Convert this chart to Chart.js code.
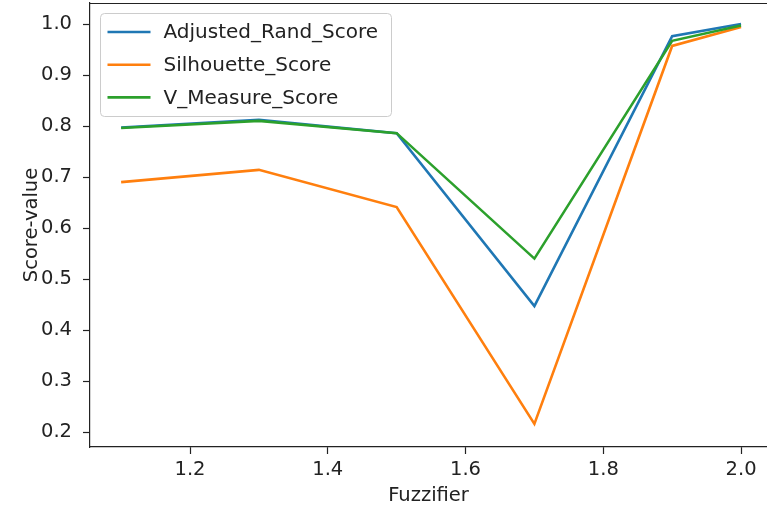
<!DOCTYPE html>
<html>
<head>
<meta charset="utf-8">
<script src="https://cdn.jsdelivr.net/npm/chart.js@4.4.0/dist/chart.umd.min.js"></script>
<style>
  html, body { margin: 0; padding: 0; background: #fff; overflow: hidden; }
</style>
</head>
<body>
<canvas id="scoreChart" width="767" height="512"></canvas>
<script>
// data
var fuzzifier = [1.1, 1.3, 1.5, 1.7, 1.9, 2.0];
var adjustedRand = [0.797, 0.812, 0.786, 0.447, 0.976, 1.0];
var silhouette = [0.690, 0.714, 0.641, 0.216, 0.957, 0.994];
var vMeasure = [0.796, 0.810, 0.786, 0.540, 0.967, 0.997];
var xTicks = [1.2, 1.4, 1.6, 1.8, 2.0];
var yTicks = [0.2, 0.3, 0.4, 0.5, 0.6, 0.7, 0.8, 0.9, 1.0];

var FONT = 'DejaVu Sans';
var TXT = '#222';

function toPoints(vals) {
  return fuzzifier.map(function(x, i) { return {x: x, y: vals[i]}; });
}

// top spine (matplotlib box)
var topSpine = {
  id: 'topSpine',
  afterDraw: function(chart) {
    var a = chart.chartArea, ctx = chart.ctx;
    ctx.save();
    ctx.strokeStyle = TXT;
    ctx.lineWidth = 1.2;
    ctx.beginPath();
    ctx.moveTo(a.left, a.top + 0.5);
    ctx.lineTo(a.right, a.top + 0.5);
    ctx.stroke();
    ctx.restore();
  }
};

// legend box in upper left, like matplotlib
var boxLegend = {
  id: 'boxLegend',
  afterDatasetsDraw: function(chart) {
    var a = chart.chartArea, ctx = chart.ctx;
    var x = a.left + 10.5, y = a.top + 10.5, w = 291, h = 103;
    ctx.save();
    ctx.beginPath();
    ctx.roundRect(x, y, w, h, 4);
    ctx.fillStyle = 'rgba(255,255,255,0.85)';
    ctx.fill();
    ctx.strokeStyle = '#cccccc';
    ctx.lineWidth = 1;
    ctx.stroke();
    ctx.font = '20px "' + FONT + '"';
    ctx.textBaseline = 'middle';
    chart.data.datasets.forEach(function(ds, i) {
      var yy = y + 18.5 + i * 32.7;
      ctx.strokeStyle = ds.borderColor;
      ctx.lineWidth = 2.6;
      ctx.beginPath();
      ctx.moveTo(x + 7, yy);
      ctx.lineTo(x + 50, yy);
      ctx.stroke();
      ctx.fillStyle = TXT;
      ctx.fillText(ds.label, x + 63, yy + 1);
    });
    ctx.restore();
  }
};

var ctx = document.getElementById('scoreChart');
var chart = new Chart(ctx, {
  type: 'line',
  data: {
    datasets: [{
      label: 'Adjusted_Rand_Score',
      data: toPoints(adjustedRand),
      borderColor: '#1f77b4',
      order: 2
    }, {
      label: 'Silhouette_Score',
      data: toPoints(silhouette),
      borderColor: '#ff7f0e',
      order: 1
    }, {
      label: 'V_Measure_Score',
      data: toPoints(vMeasure),
      borderColor: '#2ca02c',
      order: 0
    }]
  },
  options: {
    responsive: false,
    animation: false,
    layout: { autoPadding: false, padding: { left: 0, top: 3, right: 0, bottom: 0 } },
    elements: {
      line: { borderWidth: 2.6, tension: 0, fill: false },
      point: { radius: 0, hoverRadius: 0 }
    },
    plugins: {
      legend: { display: false },
      title: { display: false },
      tooltip: { enabled: false }
    },
    scales: {
      x: {
        type: 'linear',
        min: 1.0548,
        max: 2.0377,
        afterFit: function(s) {
          s.height = 65;
          s.paddingLeft = 0; s.paddingRight = 0; s.paddingTop = 0; s.paddingBottom = 0;
        },
        afterBuildTicks: function(s) { s.ticks = xTicks.map(function(v) { return {value: v}; }); },
        grid: { drawOnChartArea: false, drawTicks: true, tickLength: 7, color: TXT, tickWidth: 1.2 },
        border: { display: true, color: TXT, width: 1.2 },
        ticks: {
          color: TXT, padding: 4, maxRotation: 0,
          font: { family: FONT, size: 19.5 },
          callback: function(v) { return v.toFixed(1); }
        },
        title: {
          display: true, text: 'Fuzzifier', color: TXT,
          font: { family: FONT, size: 19.5 },
          padding: { top: 0, bottom: 4 }
        }
      },
      y: {
        min: 0.1706,
        max: 1.0412,
        afterFit: function(s) {
          s.width = 90;
          s.paddingLeft = 0; s.paddingRight = 0; s.paddingTop = 0; s.paddingBottom = 0;
        },
        afterBuildTicks: function(s) { s.ticks = yTicks.map(function(v) { return {value: v}; }); },
        grid: { drawOnChartArea: false, drawTicks: true, tickLength: 7, color: TXT, tickWidth: 1.2 },
        border: { display: true, color: TXT, width: 1.2 },
        ticks: {
          color: TXT, padding: 11,
          font: { family: FONT, size: 19.5 },
          callback: function(v) { return v.toFixed(1); }
        },
        title: {
          display: true, text: 'Score-value', color: TXT,
          font: { family: FONT, size: 19.5 },
          padding: { top: 20, bottom: 0 }
        }
      }
    }
  },
  plugins: [topSpine, boxLegend]
});
</script>
</body>
</html>
